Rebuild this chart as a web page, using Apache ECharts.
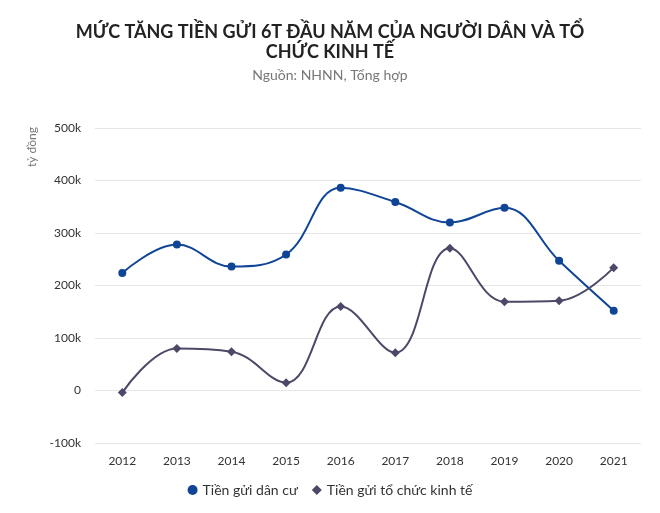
<!DOCTYPE html>
<html>
<head>
<meta charset="utf-8">
<script src="https://cdn.jsdelivr.net/npm/echarts@6/dist/echarts.min.js"></script>
<style>
  html, body { margin: 0; padding: 0; background: #fff; }
  #chart { width: 660px; height: 513px; }
</style>
</head>
<body>
<div id="chart"></div>
<script>
// dữ liệu
const years = ["2012", "2013", "2014", "2015", "2016", "2017", "2018", "2019", "2020", "2021"];
const danCu = [224000, 278000, 236000, 259000, 386000, 359000, 320000, 348000, 247000, 152000];
const toChuc = [-4000, 80000, 74000, 15000, 160000, 72000, 271000, 169000, 171000, 234000];
const seriesNames = ["Tiền gửi dân cư", "Tiền gửi tổ chức kinh tế"];

const chart = echarts.init(document.getElementById("chart"));

const fontFamily = "Lato, 'Noto Sans', sans-serif";

const option = {
  backgroundColor: "#fff",
  title: {
    text: "MỨC TĂNG TIỀN GỬI 6T ĐẦU NĂM CỦA NGƯỜI DÂN VÀ TỔ\nCHỨC KINH TẾ",
    subtext: "Nguồn: NHNN, Tổng hợp",
    left: "center",
    top: 17,
    itemGap: 6,
    textStyle: {
      fontFamily: fontFamily,
      fontSize: 18,
      fontWeight: "bold",
      color: "#222",
      lineHeight: 20,
    },
    subtextStyle: {
      fontFamily: fontFamily,
      fontSize: 14,
      color: "#777",
    },
  },
  // nhãn trục tung
  graphic: [
    {
      type: "text",
      left: 26,
      top: 127,
      rotation: Math.PI / 2,
      style: {
        text: "tỷ đồng",
        fontFamily: fontFamily,
        fontSize: 12,
        fill: "#777",
      },
    },
  ],
  legend: {
    bottom: 11,
    left: "center",
    itemWidth: 10,
    itemHeight: 10,
    itemGap: 14,
    textStyle: { fontFamily: fontFamily, fontSize: 14, color: "#333" },
    data: [
      { name: seriesNames[0], icon: "circle" },
      { name: seriesNames[1], icon: "diamond" },
    ],
  },
  grid: {
    left: 95,
    right: 19,
    top: 128,
    bottom: 70,
  },
  xAxis: {
    type: "category",
    data: years,
    boundaryGap: true,
    axisLine: { show: false },
    axisTick: { show: false },
    axisLabel: { fontFamily: fontFamily, fontSize: 12, color: "#333", margin: 12 },
  },
  yAxis: {
    type: "value",
    min: -100000,
    max: 500000,
    interval: 100000,
    axisLine: { show: false },
    axisTick: { show: false },
    splitLine: { lineStyle: { color: "#e6e6e6" } },
    axisLabel: {
      fontFamily: fontFamily,
      fontSize: 12,
      color: "#333",
      margin: 14,
      formatter: (v) => (v === 0 ? "0" : v / 1000 + "k"),
    },
  },
  series: [
    {
      name: seriesNames[0],
      type: "line",
      smooth: 0.4,
      data: danCu,
      symbol: "circle",
      symbolSize: 8,
      itemStyle: { color: "#0f4496" },
      lineStyle: { width: 2, color: "#0f4496" },
    },
    {
      name: seriesNames[1],
      type: "line",
      smooth: 0.4,
      data: toChuc,
      symbol: "diamond",
      symbolSize: 9,
      itemStyle: { color: "#4d4868" },
      lineStyle: { width: 2, color: "#4d4868" },
    },
  ],
};

chart.setOption(option);
</script>
</body>
</html>
